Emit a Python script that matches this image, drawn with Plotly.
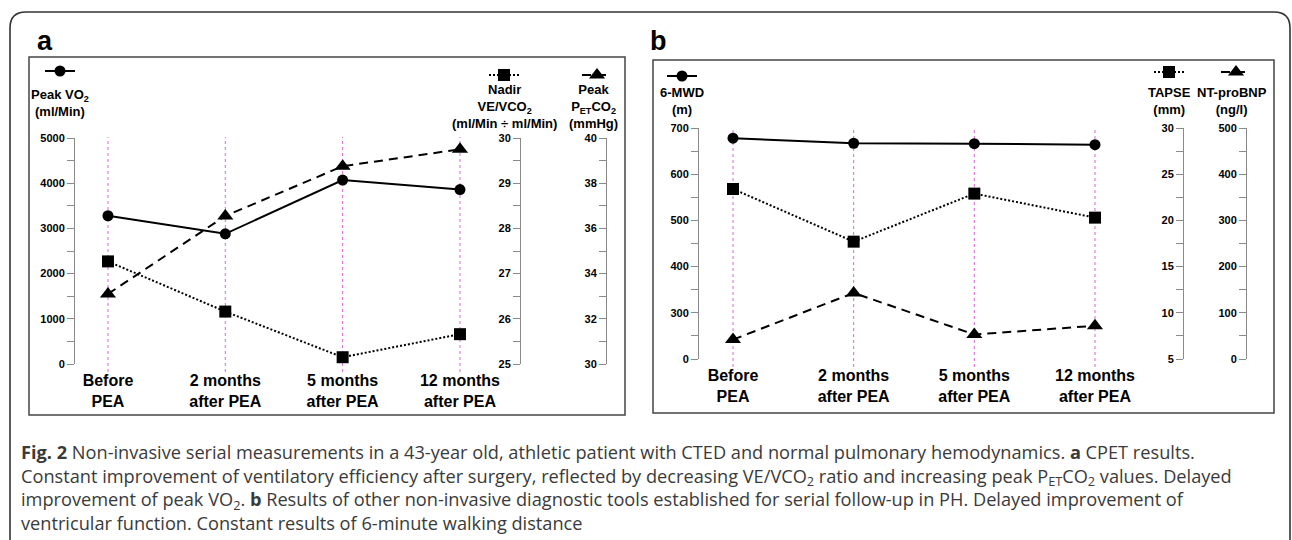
import plotly.graph_objects as go

# ---------------- data ----------------
categories = ["Before<br>PEA", "2 months<br>after PEA", "5 months<br>after PEA", "12 months<br>after PEA"]

peak_vo2 = [3280, 2880, 4070, 3860]          # ml/Min
nadir_ve_vco2 = [27.27, 26.16, 25.15, 25.66]  # ml/Min / ml/Min
peak_petco2 = [33.1, 36.55, 38.75, 39.5]      # mmHg

mwd6 = [678, 667, 666, 664]                   # m
tapse = [23.4, 17.7, 22.9, 20.3]              # mm
nt_probnp = [42, 143, 53, 72]                 # ng/l

vo2_ticks = [0, 1000, 2000, 3000, 4000, 5000]
ve_ticks = [25, 26, 27, 28, 29, 30]
pet_ticks = [30, 32, 34, 36, 38, 40]
mwd_tickvals = [200, 300, 400, 500, 600, 700]
mwd_ticktext = ["0", "300", "400", "500", "600", "700"]
tapse_ticks = [5, 10, 15, 20, 25, 30]
nt_ticks = [0, 100, 200, 300, 400, 500]

caption_lines = [
    "<b>Fig. 2</b> Non-invasive serial measurements in a 43-year old, athletic patient with CTED and normal pulmonary hemodynamics. <b>a</b> CPET results.",
    "Constant improvement of ventilatory efficiency after surgery, reflected by decreasing VE/VCO<sub>2</sub> ratio and increasing peak P<sub>ET</sub>CO<sub>2</sub> values. Delayed",
    "improvement of peak VO<sub>2</sub>. <b>b</b> Results of other non-invasive diagnostic tools established for serial follow-up in PH. Delayed improvement of",
    "ventricular function. Constant results of 6-minute walking distance",
]

# ---------------- geometry helpers ----------------
W, H = 1292, 540
def fx(p):
    return p / W
def fy(p):
    return 1 - p / H

FONT = "Liberation Sans, Arial, sans-serif"
AXC = "#8a8a8a"
GUIDE = "#d66ad6"

fig = go.Figure()

def add_series(x, y, xa, ya, dash, symbol, size, legend):
    fig.add_trace(go.Scatter(
        x=x, y=y, xaxis=xa, yaxis=ya, mode="lines+markers",
        line=dict(color="black", width=2, dash=dash),
        marker=dict(symbol=symbol, size=size, color="black"),
        cliponaxis=False, name=" ", showlegend=True, legend=legend,
    ))

add_series(categories, peak_vo2, "x", "y", "solid", "circle", 11, "legend")
add_series(categories, nadir_ve_vco2, "x", "y2", "2px,2px", "square", 12, "legend2")
add_series(categories, peak_petco2, "x", "y3", "9px,6px", "triangle-up", 14, "legend3")
add_series(categories, mwd6, "x2", "y4", "solid", "circle", 11, "legend4")
add_series(categories, tapse, "x2", "y5", "2px,2px", "square", 12, "legend5")
add_series(categories, nt_probnp, "x2", "y6", "9px,6px", "triangle-up", 14, "legend6")

tickfont = dict(family=FONT, size=11, color="black", weight="bold")

def yax(rng, dtick, minor, **kw):
    d = dict(range=rng, dtick=dtick, tick0=rng[0], showline=True, linecolor=AXC, linewidth=1,
             ticks="outside", ticklen=7, tickcolor=AXC, tickwidth=1, showgrid=False,
             zeroline=False, tickfont=tickfont, fixedrange=True, automargin=False,
             minor=dict(ticks="outside", ticklen=7, tickcolor=AXC, dtick=minor, tick0=rng[0], showgrid=False))
    d.update(kw)
    return d

def xax(domain, rng, anchor):
    return dict(domain=domain, range=rng, anchor=anchor, type="category",
                showline=False, ticks="", showgrid=False, zeroline=False,
                automargin=False, ticklabelstandoff=5, fixedrange=True,
                tickfont=dict(family=FONT, size=16, color="black", weight="bold"))

# panel a
xa_left, xa_right = 75, 492
ya_top, ya_bot = 138, 364
fig.update_layout(
    xaxis=xax([fx(xa_left), fx(xa_right)], [-0.281, 3.273], "y"),
    yaxis=yax([0, 5000], 1000, 500, domain=[fy(ya_bot), fy(ya_top)], anchor="x",
              tickvals=vo2_ticks),
    yaxis2=yax([25, 30], 1, 0.5, overlaying="y", anchor="free", position=fx(520), side="left",
               tickvals=ve_ticks),
    yaxis3=yax([30, 40], 2, 1, overlaying="y", anchor="free", position=fx(606), side="left",
               tickvals=pet_ticks),
)
# panel b
xb_left, xb_right = 699, 1140
yb_top, yb_bot = 128, 359
fig.update_layout(
    xaxis2=xax([fx(xb_left), fx(xb_right)], [-0.2818, 3.373], "y4"),
    yaxis4=yax([200, 700], 100, 50, domain=[fy(yb_bot), fy(yb_top)], anchor="x2",
               tickvals=mwd_tickvals, ticktext=mwd_ticktext),
    yaxis5=yax([5, 30], 5, 2.5, overlaying="y4", anchor="free", position=fx(1183), side="left",
               tickvals=tapse_ticks),
    yaxis6=yax([0, 500], 100, 50, overlaying="y4", anchor="free", position=fx(1246), side="left",
               tickvals=nt_ticks),
)

# legends (key symbols above each axis)
def leg(cx, cy):
    return dict(x=fx(cx - 19), y=fy(cy), xanchor="left", yanchor="middle",
                bgcolor="rgba(0,0,0,0)", borderwidth=0, font=dict(size=10),
                itemwidth=30, itemclick=False, itemdoubleclick=False)

fig.update_layout(
    legend=leg(59, 71), legend2=leg(503, 75), legend3=leg(596, 75),
    legend4=leg(681, 76), legend5=leg(1168, 72), legend6=leg(1235, 72),
)

# shapes: outer rounded frame, panel frames, dotted guide lines at each time point
x0, x1, yt, yb, r = 10, 1290, 12, 548, 16
path = (f"M {fx(x0)},{fy(yb)} L {fx(x0)},{fy(yt + r)} Q {fx(x0)},{fy(yt)} {fx(x0 + r)},{fy(yt)} "
        f"L {fx(x1 - r)},{fy(yt)} Q {fx(x1)},{fy(yt)} {fx(x1)},{fy(yt + r)} L {fx(x1)},{fy(yb)}")
shapes = [
    dict(type="path", xref="paper", yref="paper", path=path, line=dict(color="#333333", width=1.6)),
    dict(type="rect", xref="paper", yref="paper", x0=fx(29), x1=fx(625), y0=fy(415), y1=fy(57),
         line=dict(color="#444444", width=1.5)),
    dict(type="rect", xref="paper", yref="paper", x0=fx(653), x1=fx(1274), y0=fy(413), y1=fy(60),
         line=dict(color="#444444", width=1.5)),
]
for c in categories:
    shapes.append(dict(type="line", xref="x", yref="paper", x0=c, x1=c, y0=fy(372), y1=fy(137),
                       layer="below", line=dict(color=GUIDE, width=1, dash="dot")))
    shapes.append(dict(type="line", xref="x2", yref="paper", x0=c, x1=c, y0=fy(367), y1=fy(128),
                       layer="below", line=dict(color=GUIDE, width=1, dash="dot")))
fig.update_layout(shapes=shapes)

# annotations
hfont = dict(family=FONT, size=13, color="black", weight="bold")
ann = []
def header(text, cx, cy):
    ann.append(dict(text=text, x=fx(cx), y=fy(cy), xref="paper", yref="paper",
                    xanchor="center", yanchor="middle", showarrow=False, font=hfont))

header("Peak VO<sub>2</sub><br>(ml/Min)", 60, 103)
header("Nadir<br>VE/VCO<sub>2</sub><br>(ml/Min ÷ ml/Min)", 504, 106)
header("Peak<br>P<sub>ET</sub>CO<sub>2</sub><br>(mmHg)", 593, 106)
header("6-MWD<br>(m)", 682, 101)
header("TAPSE<br>(mm)", 1169, 101)
header("NT-proBNP<br>(ng/l)", 1232, 101)

for letter, cx in (("a", 45), ("b", 658)):
    ann.append(dict(text=letter, x=fx(cx), y=fy(41), xref="paper", yref="paper",
                    xanchor="center", yanchor="middle", showarrow=False,
                    font=dict(family=FONT, size=27, color="black", weight="bold")))

ann.append(dict(text="<br>".join(caption_lines), x=fx(19), y=fy(487), xref="paper", yref="paper",
                xanchor="left", yanchor="middle", showarrow=False, align="left",
                font=dict(family="Open Sans, sans-serif", size=18.2, color="#3a3a3a")))

fig.update_layout(
    annotations=ann,
    width=W, height=H, margin=dict(l=0, r=0, t=0, b=0, autoexpand=False),
    paper_bgcolor="white", plot_bgcolor="rgba(0,0,0,0)",
    font=dict(family=FONT),
)

fig.write_html("out.html", config={"displayModeBar": False, "staticPlot": True},
               post_script="document.body.style.margin='0';document.body.style.overflow='hidden';")
